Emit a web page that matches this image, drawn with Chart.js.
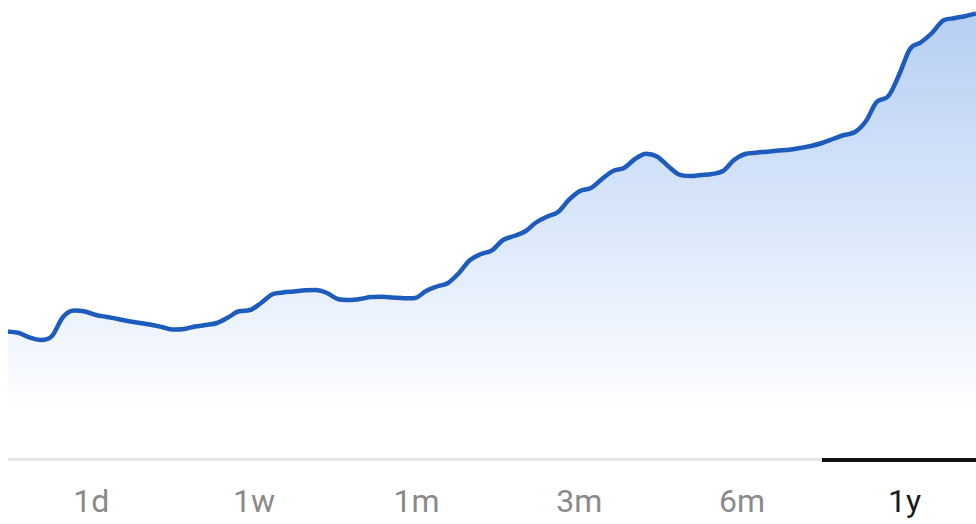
<!DOCTYPE html>
<html>
<head>
<meta charset="utf-8">
<script src="https://cdn.jsdelivr.net/npm/chart.js@4/dist/chart.umd.min.js"></script>
<style>
  body { margin: 0; background: #fff; width: 976px; height: 524px; overflow: hidden; position: relative; font-family: Roboto, sans-serif; }
  #wrap { position: absolute; left: 0; top: 0; width: 976px; height: 460px; }
  #sep { position: absolute; left: 8px; top: 458px; width: 968px; height: 3px; background: #e6e6e6; }
  #sel { position: absolute; left: 822px; top: 458px; width: 154px; height: 4px; background: #111; }
  #tabs { position: absolute; left: 10px; top: 478px; width: 976px; height: 46px; display: flex; }
  #tabs div { width: 162.67px; text-align: center; font-size: 32px; color: #8a8a8a; line-height: 46px; }
  #tabs div.on { color: #1c1c1c; }
</style>
</head>
<body>
<div id="wrap"><canvas id="myChart"></canvas></div>
<div id="sep"></div>
<div id="sel"></div>
<div id="tabs"></div>
<script>
// price samples over the year, oldest first
var values = [128.5, 127, 122.3, 120, 124, 143, 149.5, 148.5, 145, 143,
  141, 138.7, 137, 135.3, 133, 130.5, 131, 133.5, 135, 137,
  142.5, 148.7, 150, 157, 165.5, 167.5, 168.5, 169.7, 170, 167,
  161, 160, 161, 163, 163.3, 162.5, 161.7, 162, 169, 173.5,
  177, 187, 200, 206, 209.7, 220, 224, 228.5, 237.5, 243.3,
  248, 260.3, 269, 272, 281, 289, 292, 301, 306.3, 303.5,
  294, 285.5, 284, 285, 286, 289, 300, 306, 307.3, 308.3,
  309.4, 310.3, 312, 314, 317, 321, 325, 328, 339, 358.3,
  363.5, 385, 411, 417.7, 427, 439.3, 441.8, 443.8, 446.5];

var days = values.map(function (v, i) { return 'P' + i; });

var tabLabels = ['1d', '1w', '1m', '3m', '6m', '1y'];
var activeTab = '1y';

var tabs = document.getElementById('tabs');
tabLabels.forEach(function (t) {
  var d = document.createElement('div');
  d.textContent = t;
  if (t === activeTab) d.className = 'on';
  tabs.appendChild(d);
});

var ctx = document.getElementById('myChart').getContext('2d');
var chart = new Chart(ctx, {
  type: 'line',
  data: {
    labels: days,
    datasets: [{
      data: values,
      borderColor: '#1d5bbd',
      borderWidth: 4.5,
      pointRadius: 0,
      cubicInterpolationMode: 'monotone',
      fill: 'start',
      backgroundColor: function (c) {
        var area = c.chart.chartArea;
        if (!area) return 'rgba(190,212,245,0.6)';
        var g = c.chart.ctx.createLinearGradient(0, 0, 0, area.bottom);
        g.addColorStop(0, 'rgba(180,205,243,1)');
        g.addColorStop(0.55, 'rgba(224,235,251,1)');
        g.addColorStop(0.9, 'rgba(255,255,255,1)');
        return g;
      },
      clip: false
    }]
  },
  options: {
    responsive: true,
    maintainAspectRatio: false,
    animation: false,
    layout: { padding: { left: 8, right: 0, top: 0, bottom: 0 } },
    plugins: { legend: { display: false }, tooltip: { enabled: false } },
    scales: {
      x: { display: false, offset: false },
      y: { display: false, min: 0, max: 460 }
    }
  }
});
</script>
</body>
</html>
